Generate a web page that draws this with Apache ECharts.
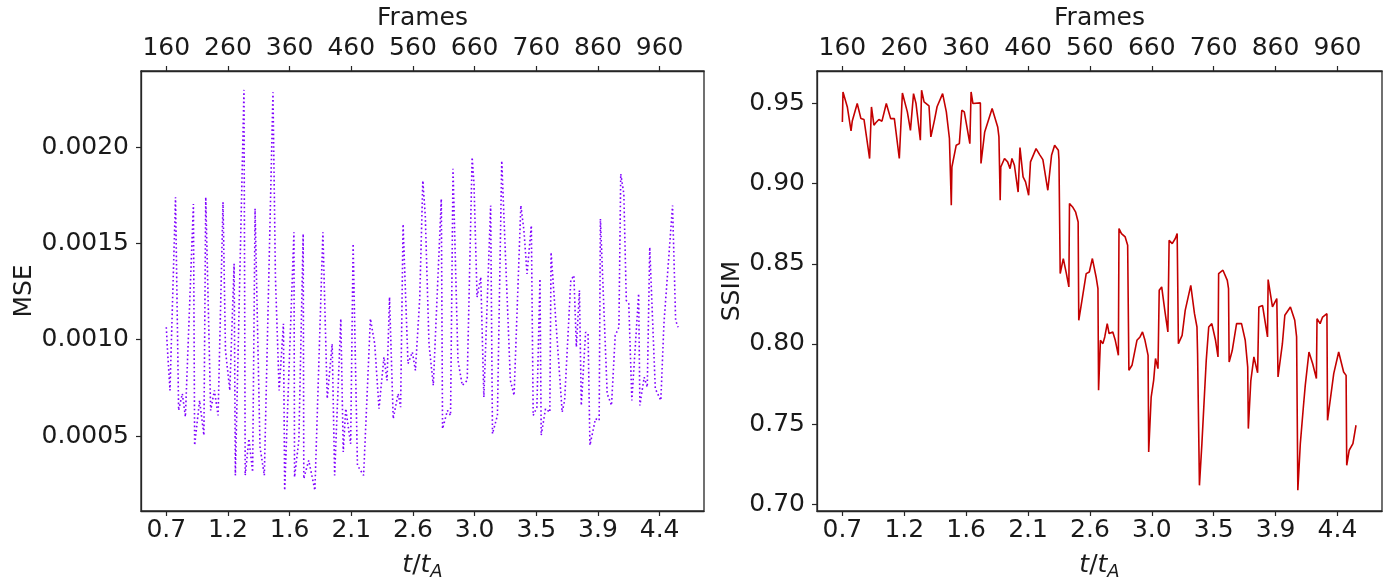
<!DOCTYPE html>
<html>
<head>
<meta charset="utf-8">
<script src="https://cdn.jsdelivr.net/npm/echarts@6.0.0/dist/echarts.min.js"></script>
<style>
html,body{margin:0;padding:0;background:#fff;}
#chart{width:1394px;height:580px;}
</style>
</head>
<body>
<div id="chart"></div>
<script>
// ---- data ----
const frameTicks = [160, 260, 360, 460, 560, 660, 760, 860, 960];
const tLabels = ['0.7', '1.2', '1.6', '2.1', '2.6', '3.0', '3.5', '3.9', '4.4'];
const mseTicks = [0.0005, 0.0010, 0.0015, 0.0020];
const ssimTicks = [0.70, 0.75, 0.80, 0.85, 0.90, 0.95];

const mseFrames = [160,162,166,175,180,186,191,204,206,214,221,224,232,238,244,252,256,263,270,272,
  286,288,294,300,304,312,319,333,337,343,350,352,367,368,375,382,383,391,401,414,
  421,429,433,443,447,451,459,463,470,480,491,498,505,513,518,522,528,536,540,544,
  552,559,564,571,576,580,586,593,606,608,616,621,625,633,640,648,656,659,664,670,
  675,686,689,697,704,718,724,735,740,745,752,755,761,766,768,775,782,784,802,806,
  816,821,825,830,833,840,844,847,856,862,864,875,882,888,894,897,902,906,910,915,
  926,928,935,940,944,953,962,967,981,986,990];
const mseValues = [0.001065,0.000944,0.000737,0.00174,0.000633,0.00072,0.0006,0.001705,0.000452,0.000685,
  0.000504,0.00174,0.000633,0.000737,0.000607,0.001714,0.000944,0.000737,0.001394,0.000296,
  0.002297,0.000296,0.000486,0.000313,0.00168,0.000443,0.000296,0.002284,0.001325,0.000737,
  0.001083,0.000218,0.001558,0.000287,0.000478,0.00155,0.000279,0.000374,0.000218,0.001558,
  0.000694,0.000979,0.000296,0.001109,0.000417,0.000642,0.00046,0.001498,0.000348,0.000296,
  0.001109,0.000979,0.000642,0.00091,0.000789,0.001221,0.00059,0.00072,0.00065,0.0016,
  0.000876,0.000936,0.000841,0.001213,0.001826,0.001645,0.000979,0.000763,0.001731,0.000538,
  0.000633,0.000607,0.001887,0.000893,0.000763,0.000789,0.001947,0.001809,0.001221,0.001325,
  0.000702,0.001697,0.000512,0.000607,0.001929,0.000789,0.000711,0.001697,0.001567,0.001342,
  0.001593,0.000607,0.00065,0.001316,0.000504,0.000642,0.000624,0.001454,0.000624,0.000685,
  0.001308,0.001334,0.000962,0.001256,0.000659,0.001039,0.001031,0.000452,0.00059,0.000581,
  0.001628,0.00072,0.000659,0.001022,0.001065,0.001861,0.001757,0.001204,0.001187,0.000685,
  0.001239,0.000659,0.000806,0.000754,0.00148,0.000746,0.000685,0.001083,0.001697,0.0011,0.001065];

const ssimFrames = [160,161,168,174,176,184,190,195,199,204,207,211,214,219,224,231,238,244,252,257,
  265,270,275,279,286,288,292,300,303,309,313,322,328,333,336,337,344,349,353,357,
  366,368,371,383,384,390,402,411,413,415,416,422,427,431,434,438,444,447,452,456,
  461,464,473,479,484,492,495,498,503,509,510,512,517,522,526,527,532,537,541,542,
  548,554,559,564,570,573,574,577,581,584,588,591,597,601,606,607,611,617,621,623,
  628,636,641,645,649,654,655,659,663,666,670,672,676,681,686,688,693,698,701,703,
  709,714,723,729,733,734,737,741,748,752,757,763,767,768,775,782,784,785,790,797,
  805,811,815,816,820,825,831,833,839,847,848,855,862,864,871,875,884,891,894,896,
  900,905,908,914,920,926,927,932,936,943,944,954,962,970,974,975,979,985,990,991];
const ssimValues = [0.9385,0.9572,0.9479,0.9329,0.9391,0.95,0.9406,0.940,0.9292,0.9157,
  0.9479,0.9365,0.938,0.940,0.939,0.95,0.9406,0.9406,0.9157,0.9566,
  0.9448,0.9333,0.9562,0.95,0.9271,0.9583,0.951,0.9485,0.9292,0.940,
  0.948,0.9562,0.9448,0.9282,0.8865,0.9104,0.924,0.925,0.9458,0.9448,
  0.925,0.9572,0.95,0.9504,0.9126,0.9323,0.9469,0.9354,0.9292,0.8897,
  0.9104,0.9157,0.9136,0.9094,0.9157,0.9115,0.8948,0.9225,0.9042,0.9011,
  0.8928,0.9136,0.9219,0.918,0.915,0.8959,0.8959,0.9177,0.924,0.9209,
  0.915,0.8439,0.8533,0.8439,0.8356,0.8876,0.8855,0.8822,0.8761,0.8148,
  0.8293,0.8439,0.8449,0.8533,0.8418,0.8346,0.7711,0.8023,0.8002,0.8044,
  0.8127,0.8065,0.8075,0.8023,0.7929,0.872,0.8689,0.8668,0.8616,0.7836,
  0.7867,0.8023,0.8044,0.8075,0.8023,0.7929,0.7326,0.7669,0.7773,0.7909,
  0.7846,0.8335,0.8356,0.821,0.8075,0.8647,0.8626,0.8658,0.8689,0.8002,
  0.8054,0.821,0.8366,0.8189,0.8106,0.794,0.7118,0.738,0.7898,0.8106,
  0.8127,0.8023,0.7919,0.8439,0.846,0.8397,0.8346,0.7887,0.7959,0.8127,
  0.8127,0.8023,0.7856,0.7472,0.777,0.7919,0.782,0.8231,0.824,0.8044,
  0.8402,0.8231,0.8283,0.7794,0.80,0.8179,0.8231,0.8148,0.8044,0.7087,
  0.7378,0.761,0.7742,0.795,0.7877,0.7784,0.8158,0.8127,0.8168,0.8189,
  0.7524,0.7815,0.795,0.7825,0.7804,0.7243,0.7337,0.7378,0.7493,0.7493];

// ---- chart ----
const FONT = 'DejaVu Sans';
const TXT = '#1a1a1a';
const LINE = '#262626';
const FS = 25;
const X_MIN = 119, X_MAX = 1032;

function pairs(xs, ys) { return xs.map((x, i) => [x, ys[i]]); }

function bottomAxis(gi) {
  return {
    type: 'value', gridIndex: gi, position: 'bottom', min: X_MIN, max: X_MAX,
    name: '{i|t}/{i|t}{s|A}', nameLocation: 'middle', nameGap: 39,
    nameTextStyle: {
      fontFamily: FONT, fontSize: FS, color: TXT,
      rich: {
        i: { fontFamily: FONT, fontSize: FS, fontStyle: 'italic', color: TXT },
        s: { fontFamily: FONT, fontSize: 18, fontStyle: 'italic', color: TXT, padding: [13, 0, 0, 0] }
      }
    },
    axisLine: { show: true, onZero: false, lineStyle: { color: LINE, width: 1.3 } },
    axisTick: { show: true, customValues: frameTicks, length: 5, lineStyle: { color: LINE, width: 1.2 } },
    axisLabel: {
      customValues: frameTicks, margin: 7, fontFamily: FONT, fontSize: FS, color: TXT,
      formatter: v => { const k = frameTicks.indexOf(Math.round(v)); return k >= 0 ? tLabels[k] : ''; }
    },
    splitLine: { show: false }
  };
}
function topAxis(gi) {
  return {
    type: 'value', gridIndex: gi, position: 'top', min: X_MIN, max: X_MAX,
    name: 'Frames', nameLocation: 'middle', nameGap: 33,
    nameTextStyle: { fontFamily: FONT, fontSize: FS, color: TXT },
    axisLine: { show: true, onZero: false, lineStyle: { color: LINE, width: 1.3 } },
    axisTick: { show: true, customValues: frameTicks, length: 5, lineStyle: { color: LINE, width: 1.2 } },
    axisLabel: { customValues: frameTicks, margin: 10, fontFamily: FONT, fontSize: FS, color: TXT,
      formatter: v => String(Math.round(v)) },
    splitLine: { show: false }
  };
}
function yAxis(gi, name, min, max, ticks, dec, gap) {
  return {
    type: 'value', gridIndex: gi, min: min, max: max,
    name: name, nameLocation: 'middle', nameGap: gap,
    nameTextStyle: { fontFamily: FONT, fontSize: FS, color: TXT },
    axisLine: { show: true, lineStyle: { color: LINE, width: 1.3 } },
    axisTick: { show: true, customValues: ticks, length: 5, lineStyle: { color: LINE, width: 1.2 } },
    axisLabel: { customValues: ticks, margin: 12, fontFamily: FONT, fontSize: FS, color: TXT,
      formatter: v => v.toFixed(dec) },
    splitLine: { show: false }
  };
}

const chart = echarts.init(document.getElementById('chart'), null, { renderer: 'canvas' });
chart.setOption({
  animation: false,
  backgroundColor: '#fff',
  grid: [
    { left: 141, top: 71, width: 563, height: 440, outerBoundsMode: 'none', containLabel: false,
      show: true, borderColor: LINE, borderWidth: 1.3, backgroundColor: 'transparent' },
    { left: 817, top: 71, width: 565, height: 440, outerBoundsMode: 'none', containLabel: false,
      show: true, borderColor: LINE, borderWidth: 1.3, backgroundColor: 'transparent' }
  ],
  xAxis: [bottomAxis(0), topAxis(0), bottomAxis(1), topAxis(1)],
  yAxis: [
    yAxis(0, 'MSE', 0.000111, 0.002395, mseTicks, 4, 104),
    yAxis(1, 'SSIM', 0.6958, 0.9703, ssimTicks, 2, 70)
  ],
  series: [
    {
      type: 'line', xAxisIndex: 0, yAxisIndex: 0, data: pairs(mseFrames, mseValues),
      symbol: 'none', lineStyle: { color: '#7f00ff', width: 1.6, type: [1.6, 2.6] }
    },
    {
      type: 'line', xAxisIndex: 2, yAxisIndex: 1, data: pairs(ssimFrames, ssimValues),
      symbol: 'none', lineStyle: { color: '#c40000', width: 1.6 }
    }
  ]
});
</script>
</body>
</html>
